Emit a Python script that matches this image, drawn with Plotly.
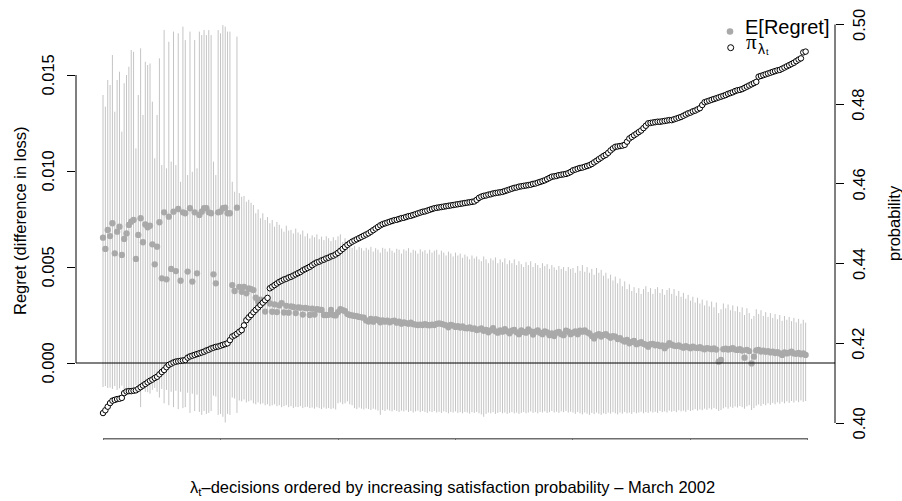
import plotly.graph_objects as go

# ---------------- data ----------------
decision_index = list(range(300))

expected_regret = [
    0.00653, 0.00594, 0.00693, 0.00661, 0.00728, 0.00571, 0.00684, 0.00710, 0.00563, 0.00646,
    0.00675, 0.00719, 0.00736, 0.00745, 0.00542, 0.00667, 0.00754, 0.00629, 0.00722, 0.00707,
    0.00715, 0.00618, 0.00514, 0.00606, 0.00733, 0.00441, 0.00785, 0.00436, 0.00762, 0.00490,
    0.00788, 0.00479, 0.00802, 0.00429, 0.00785, 0.00780, 0.00476, 0.00806, 0.00424, 0.00785,
    0.00467, 0.00771, 0.00788, 0.00806, 0.00806, 0.00785, 0.00780, 0.00462, 0.00415, 0.00785,
    0.00788, 0.00806, 0.00809, 0.00780, 0.00780, 0.00406, 0.00375, 0.00809, 0.00397, 0.00371,
    0.00397, 0.00363, 0.00389, 0.00385, 0.00380, 0.00340, 0.00320, 0.00330, 0.00315, 0.00268,
    0.00325, 0.00310, 0.00267, 0.00305, 0.00265, 0.00300, 0.00312, 0.00263, 0.00298, 0.00262,
    0.00295, 0.00292, 0.00260, 0.00290, 0.00288, 0.00252, 0.00287, 0.00285, 0.00250, 0.00283,
    0.00252, 0.00280, 0.00278, 0.00276, 0.00250, 0.00250, 0.00251, 0.00276, 0.00250, 0.00248,
    0.00265, 0.00280, 0.00275, 0.00270, 0.00255, 0.00250, 0.00248, 0.00245, 0.00244, 0.00240,
    0.00238, 0.00236, 0.00222, 0.00216, 0.00230, 0.00215, 0.00228, 0.00224, 0.00212, 0.00222,
    0.00215, 0.00220, 0.00212, 0.00218, 0.00220, 0.00210, 0.00216, 0.00205, 0.00212, 0.00208,
    0.00204, 0.00210, 0.00202, 0.00200, 0.00198, 0.00200, 0.00198, 0.00202, 0.00198, 0.00196,
    0.00200, 0.00198, 0.00204, 0.00206, 0.00204, 0.00200, 0.00196, 0.00186, 0.00198, 0.00195,
    0.00188, 0.00192, 0.00185, 0.00190, 0.00182, 0.00181, 0.00185, 0.00178, 0.00180, 0.00172,
    0.00175, 0.00180, 0.00168, 0.00172, 0.00160, 0.00170, 0.00182, 0.00165, 0.00158, 0.00170,
    0.00163, 0.00176, 0.00165, 0.00155, 0.00168, 0.00172, 0.00160, 0.00150, 0.00170, 0.00162,
    0.00158, 0.00175, 0.00165, 0.00148, 0.00163, 0.00170, 0.00158, 0.00150, 0.00165, 0.00160,
    0.00145, 0.00154, 0.00140, 0.00158, 0.00162, 0.00150, 0.00145, 0.00168, 0.00163, 0.00150,
    0.00158, 0.00165, 0.00150, 0.00168, 0.00163, 0.00170, 0.00160, 0.00154, 0.00140, 0.00128,
    0.00145, 0.00150, 0.00138, 0.00146, 0.00150, 0.00140, 0.00132, 0.00140, 0.00137, 0.00125,
    0.00130, 0.00118, 0.00112, 0.00120, 0.00103, 0.00110, 0.00115, 0.00098, 0.00103, 0.00108,
    0.00100, 0.00095, 0.00085, 0.00098, 0.00100, 0.00092, 0.00095, 0.00088, 0.00092, 0.00077,
    0.00090, 0.00103, 0.00095, 0.00090, 0.00088, 0.00092, 0.00085, 0.00080, 0.00088, 0.00082,
    0.00077, 0.00085, 0.00080, 0.00078, 0.00082, 0.00076, 0.00071, 0.00078, 0.00075, 0.00072,
    0.00076, 0.00070, 0.00007, 0.00016, 0.00072, 0.00075, 0.00070, 0.00073, 0.00077, 0.00070,
    0.00068, 0.00072, 0.00065, 0.00028, 0.00068, 0.00062, -0.00002, 0.00033, 0.00065, 0.00068,
    0.00060, 0.00064, 0.00058, 0.00062, 0.00055, 0.00059, 0.00052, 0.00056, 0.00050, 0.00042,
    0.00055, 0.00050, 0.00054, 0.00059, 0.00050, 0.00048, 0.00052, 0.00045, 0.00050, 0.00042,
]

regret_upper = [
    0.01396, 0.01335, 0.01474, 0.01448, 0.01604, 0.01309, 0.01474, 0.01517, 0.01205, 0.01457,
    0.01500, 0.01543, 0.01630, 0.01621, 0.01118, 0.01396, 0.01639, 0.01292, 0.01569, 0.01552,
    0.01560, 0.01361, 0.01066, 0.01292, 0.01587, 0.01031, 0.01734, 0.01014, 0.01673, 0.01049,
    0.01726, 0.01031, 0.01717, 0.00944, 0.01752, 0.01682, 0.00979, 0.01726, 0.00996, 0.01682,
    0.01014, 0.01726, 0.01708, 0.01734, 0.01708, 0.01734, 0.01708, 0.01049, 0.00979, 0.01734,
    0.01717, 0.01760, 0.01752, 0.01726, 0.01726, 0.00944, 0.00892, 0.01700, 0.00885, 0.00866,
    0.00870, 0.00840, 0.00850, 0.00835, 0.00823, 0.00780, 0.00800, 0.00754, 0.00780, 0.00745,
    0.00760, 0.00728, 0.00745, 0.00710, 0.00735, 0.00720, 0.00700, 0.00684, 0.00715, 0.00690,
    0.00693, 0.00675, 0.00700, 0.00680, 0.00670, 0.00690, 0.00660, 0.00675, 0.00649, 0.00665,
    0.00655, 0.00670, 0.00645, 0.00658, 0.00640, 0.00660, 0.00650, 0.00635, 0.00655, 0.00640,
    0.00660, 0.00670, 0.00630, 0.00650, 0.00620, 0.00605, 0.00600, 0.00610, 0.00590, 0.00605,
    0.00598, 0.00585, 0.00600, 0.00590, 0.00605, 0.00580, 0.00598, 0.00590, 0.00575, 0.00600,
    0.00595, 0.00580, 0.00598, 0.00585, 0.00575, 0.00595, 0.00590, 0.00570, 0.00592, 0.00585,
    0.00598, 0.00575, 0.00590, 0.00585, 0.00570, 0.00592, 0.00580, 0.00588, 0.00570, 0.00590,
    0.00575, 0.00585, 0.00590, 0.00565, 0.00585, 0.00575, 0.00560, 0.00580, 0.00570, 0.00555,
    0.00575, 0.00560, 0.00570, 0.00548, 0.00565, 0.00555, 0.00540, 0.00560, 0.00545, 0.00555,
    0.00540, 0.00530, 0.00555, 0.00540, 0.00520, 0.00545, 0.00535, 0.00550, 0.00520, 0.00540,
    0.00525, 0.00545, 0.00515, 0.00535, 0.00520, 0.00540, 0.00510, 0.00530, 0.00515, 0.00500,
    0.00525, 0.00510, 0.00530, 0.00500, 0.00520, 0.00510, 0.00495, 0.00520, 0.00505, 0.00515,
    0.00490, 0.00510, 0.00498, 0.00485, 0.00505, 0.00490, 0.00500, 0.00480, 0.00500, 0.00490,
    0.00495, 0.00470, 0.00505, 0.00480, 0.00510, 0.00475, 0.00500, 0.00470, 0.00490, 0.00460,
    0.00495, 0.00470, 0.00485, 0.00455, 0.00470, 0.00440, 0.00460, 0.00430, 0.00450, 0.00415,
    0.00440, 0.00400, 0.00425, 0.00385, 0.00410, 0.00375, 0.00395, 0.00365, 0.00390, 0.00360,
    0.00385, 0.00400, 0.00370, 0.00390, 0.00360, 0.00385, 0.00395, 0.00365, 0.00385, 0.00355,
    0.00380, 0.00390, 0.00360, 0.00385, 0.00350, 0.00375, 0.00345, 0.00365, 0.00335, 0.00355,
    0.00325, 0.00345, 0.00315, 0.00340, 0.00310, 0.00330, 0.00300, 0.00325, 0.00295, 0.00320,
    0.00290, 0.00315, 0.00260, 0.00280, 0.00310, 0.00285, 0.00305, 0.00275, 0.00300, 0.00270,
    0.00295, 0.00265, 0.00290, 0.00250, 0.00285, 0.00260, 0.00230, 0.00245, 0.00280, 0.00255,
    0.00275, 0.00245, 0.00265, 0.00240, 0.00260, 0.00235, 0.00255, 0.00228, 0.00250, 0.00220,
    0.00245, 0.00225, 0.00240, 0.00218, 0.00235, 0.00212, 0.00230, 0.00205, 0.00225, 0.00210,
]

regret_lower = [
    -0.00125, -0.00120, -0.00130, -0.00128, -0.00135, -0.00120, -0.00140, -0.00132, -0.00118, -0.00140,
    -0.00138, -0.00145, -0.00150, -0.00148, -0.00115, -0.00140, -0.00230, -0.00135, -0.00150, -0.00152,
    -0.00160, -0.00140, -0.00130, -0.00150, -0.00180, -0.00135, -0.00210, -0.00140, -0.00220, -0.00150,
    -0.00230, -0.00145, -0.00240, -0.00150, -0.00235, -0.00230, -0.00155, -0.00260, -0.00160, -0.00250,
    -0.00165, -0.00255, -0.00270, -0.00250, -0.00265, -0.00260, -0.00250, -0.00170, -0.00175, -0.00270,
    -0.00265, -0.00280, -0.00310, -0.00265, -0.00270, -0.00180, -0.00185, -0.00260, -0.00195, -0.00200,
    -0.00190, -0.00205, -0.00200, -0.00195, -0.00210, -0.00215, -0.00205, -0.00215, -0.00210, -0.00220,
    -0.00215, -0.00225, -0.00220, -0.00215, -0.00225, -0.00220, -0.00230, -0.00225, -0.00220, -0.00230,
    -0.00225, -0.00235, -0.00228, -0.00230, -0.00225, -0.00235, -0.00230, -0.00228, -0.00235, -0.00232,
    -0.00238, -0.00230, -0.00235, -0.00240, -0.00232, -0.00238, -0.00235, -0.00240, -0.00236, -0.00242,
    -0.00210, -0.00205, -0.00215, -0.00210, -0.00200, -0.00215, -0.00220, -0.00235, -0.00240, -0.00232,
    -0.00238, -0.00242, -0.00236, -0.00240, -0.00245, -0.00238, -0.00242, -0.00248, -0.00270, -0.00245,
    -0.00250, -0.00242, -0.00248, -0.00252, -0.00245, -0.00250, -0.00255, -0.00248, -0.00252, -0.00246,
    -0.00255, -0.00250, -0.00258, -0.00252, -0.00248, -0.00256, -0.00250, -0.00255, -0.00260, -0.00252,
    -0.00256, -0.00250, -0.00258, -0.00254, -0.00260, -0.00252, -0.00256, -0.00262, -0.00255, -0.00258,
    -0.00252, -0.00260, -0.00256, -0.00262, -0.00255, -0.00258, -0.00264, -0.00256, -0.00260, -0.00255,
    -0.00262, -0.00268, -0.00280, -0.00265, -0.00258, -0.00262, -0.00256, -0.00265, -0.00260, -0.00255,
    -0.00262, -0.00258, -0.00265, -0.00260, -0.00256, -0.00262, -0.00258, -0.00265, -0.00260, -0.00255,
    -0.00262, -0.00258, -0.00252, -0.00260, -0.00256, -0.00262, -0.00255, -0.00258, -0.00252, -0.00260,
    -0.00256, -0.00250, -0.00258, -0.00254, -0.00260, -0.00252, -0.00256, -0.00250, -0.00258, -0.00254,
    -0.00258, -0.00265, -0.00255, -0.00262, -0.00268, -0.00258, -0.00264, -0.00270, -0.00260, -0.00266,
    -0.00258, -0.00264, -0.00270, -0.00262, -0.00266, -0.00258, -0.00264, -0.00256, -0.00262, -0.00268,
    -0.00258, -0.00264, -0.00255, -0.00262, -0.00258, -0.00265, -0.00256, -0.00262, -0.00258, -0.00254,
    -0.00262, -0.00256, -0.00260, -0.00252, -0.00258, -0.00254, -0.00260, -0.00250, -0.00256, -0.00252,
    -0.00258, -0.00248, -0.00254, -0.00250, -0.00256, -0.00246, -0.00252, -0.00248, -0.00254, -0.00244,
    -0.00250, -0.00246, -0.00240, -0.00248, -0.00242, -0.00246, -0.00238, -0.00244, -0.00236, -0.00242,
    -0.00234, -0.00240, -0.00250, -0.00245, -0.00236, -0.00230, -0.00238, -0.00228, -0.00234, -0.00226,
    -0.00232, -0.00224, -0.00230, -0.00238, -0.00226, -0.00220, -0.00245, -0.00235, -0.00222, -0.00216,
    -0.00224, -0.00214, -0.00220, -0.00210, -0.00218, -0.00208, -0.00215, -0.00205, -0.00212, -0.00202,
    -0.00210, -0.00200, -0.00208, -0.00198, -0.00206, -0.00196, -0.00204, -0.00195, -0.00202, -0.00198,
]

satisfaction_prob = [
    0.4025, 0.4032, 0.4041, 0.4050, 0.4056, 0.4058, 0.4060, 0.4061, 0.4063, 0.4075,
    0.4079, 0.4080, 0.4080, 0.4081, 0.4082, 0.4086, 0.4090, 0.4094, 0.4098, 0.4102,
    0.4106, 0.4109, 0.4113, 0.4116, 0.4122, 0.4128, 0.4133, 0.4140, 0.4146, 0.4149,
    0.4152, 0.4154, 0.4155, 0.4156, 0.4157, 0.4158, 0.4164, 0.4167, 0.4169, 0.4171,
    0.4173, 0.4175, 0.4177, 0.4179, 0.4182, 0.4184, 0.4187, 0.4189, 0.4191, 0.4192,
    0.4194, 0.4196, 0.4198, 0.4200, 0.4208, 0.4217, 0.4220, 0.4224, 0.4229, 0.4233,
    0.4245, 0.4258, 0.4265, 0.4271, 0.4278, 0.4284, 0.4290, 0.4296, 0.4302, 0.4308,
    0.4314, 0.4338, 0.4342, 0.4346, 0.4350, 0.4354, 0.4357, 0.4360, 0.4362, 0.4365,
    0.4367, 0.4370, 0.4373, 0.4376, 0.4379, 0.4383, 0.4386, 0.4389, 0.4392, 0.4396,
    0.4400, 0.4403, 0.4405, 0.4408, 0.4410, 0.4413, 0.4415, 0.4418, 0.4420, 0.4423,
    0.4427, 0.4432, 0.4437, 0.4442, 0.4447, 0.4451, 0.4455, 0.4458, 0.4461, 0.4464,
    0.4467, 0.4470, 0.4473, 0.4476, 0.4480, 0.4484, 0.4488, 0.4492, 0.4496, 0.4499,
    0.4501, 0.4503, 0.4505, 0.4507, 0.4509, 0.4510, 0.4512, 0.4514, 0.4515, 0.4517,
    0.4519, 0.4520, 0.4522, 0.4524, 0.4526, 0.4528, 0.4530, 0.4531, 0.4533, 0.4535,
    0.4537, 0.4539, 0.4540, 0.4541, 0.4542, 0.4543, 0.4544, 0.4545, 0.4546, 0.4547,
    0.4548, 0.4549, 0.4550, 0.4551, 0.4552, 0.4553, 0.4554, 0.4555, 0.4556, 0.4560,
    0.4565, 0.4568, 0.4570, 0.4571, 0.4573, 0.4574, 0.4576, 0.4577, 0.4578, 0.4579,
    0.4580, 0.4582, 0.4584, 0.4586, 0.4588, 0.4590, 0.4591, 0.4593, 0.4594, 0.4595,
    0.4596, 0.4597, 0.4598, 0.4600, 0.4601, 0.4603, 0.4605, 0.4607, 0.4609, 0.4612,
    0.4615, 0.4618, 0.4619, 0.4620, 0.4622, 0.4623, 0.4624, 0.4625, 0.4627, 0.4630,
    0.4634, 0.4636, 0.4638, 0.4640, 0.4641, 0.4643, 0.4645, 0.4647, 0.4650, 0.4654,
    0.4658, 0.4662, 0.4666, 0.4670, 0.4673, 0.4678, 0.4684, 0.4689, 0.4693, 0.4694,
    0.4695, 0.4696, 0.4698, 0.4706, 0.4714, 0.4718, 0.4722, 0.4726, 0.4730, 0.4734,
    0.4740, 0.4746, 0.4752, 0.4753, 0.4754, 0.4755, 0.4756, 0.4756, 0.4757, 0.4758,
    0.4759, 0.4760, 0.4760, 0.4762, 0.4764, 0.4766, 0.4768, 0.4771, 0.4774, 0.4777,
    0.4779, 0.4782, 0.4784, 0.4787, 0.4790, 0.4798, 0.4805, 0.4807, 0.4809, 0.4811,
    0.4813, 0.4815, 0.4817, 0.4819, 0.4821, 0.4823, 0.4826, 0.4828, 0.4830, 0.4833,
    0.4835, 0.4836, 0.4838, 0.4841, 0.4844, 0.4847, 0.4850, 0.4853, 0.4856, 0.4869,
    0.4871, 0.4873, 0.4875, 0.4877, 0.4879, 0.4881, 0.4883, 0.4885, 0.4886, 0.4889,
    0.4892, 0.4895, 0.4898, 0.4901, 0.4904, 0.4908, 0.4912, 0.4915, 0.4930, 0.4932,
]

left_ticks = [0.0, 0.005, 0.010, 0.015]
left_tick_labels = ["0.000", "0.005", "0.010", "0.015"]
right_ticks = [0.40, 0.42, 0.44, 0.46, 0.48, 0.50]
right_tick_labels = ["0.40", "0.42", "0.44", "0.46", "0.48", "0.50"]
x_ticks = [0, 50, 100, 150, 200, 250, 300]

lens = [len(decision_index), len(expected_regret), len(regret_upper), len(regret_lower), len(satisfaction_prob)]
if len(set(lens)) != 1:
    raise ValueError("length mismatch: %s" % lens)

# ---------------- figure ----------------
X_RANGE = [-11.5, 311.5]
Y_RANGE = [-0.003906, 0.018021]
Y2_RANGE = [0.396236, 0.501882]

BAR_GREY = "#C4C4C4"
DOT_GREY = "#A9A9A9"
FONT = "Liberation Sans, Arial, Helvetica, sans-serif"
FS = 16.5

PL, PR, PT, PB = 76, 835, 17, 438   # plotting region in pixels


def px_x(v):
    return (v - PL) / (PR - PL)


def px_y(v):
    return (PB - v) / (PB - PT)


fig = go.Figure()

fig.add_trace(go.Scatter(
    x=decision_index, y=expected_regret, mode="markers",
    marker=dict(color=DOT_GREY, size=6.3, line=dict(width=0)),
    error_y=dict(type="data", symmetric=False,
                 array=[u - r for u, r in zip(regret_upper, expected_regret)],
                 arrayminus=[r - l for r, l in zip(expected_regret, regret_lower)],
                 color=BAR_GREY, thickness=1, width=0),
    showlegend=False, hoverinfo="skip", yaxis="y",
))

# horizontal reference line at zero regret (spans the plotting region)
fig.add_trace(go.Scatter(
    x=X_RANGE, y=[0, 0], mode="lines", line=dict(color="black", width=1),
    showlegend=False, hoverinfo="skip", yaxis="y",
))

fig.add_trace(go.Scatter(
    x=decision_index, y=satisfaction_prob, mode="markers",
    marker=dict(color="white", size=5.5, line=dict(color="black", width=1)),
    showlegend=False, hoverinfo="skip", yaxis="y2",
))

axis_font = dict(family=FONT, size=FS, color="black")

fig.update_layout(
    width=902, height=501,
    margin=dict(l=PL, r=902 - PR, t=PT, b=501 - PB, autoexpand=False),
    paper_bgcolor="white", plot_bgcolor="white",
    font=axis_font,
    showlegend=False,
    hovermode=False,
    xaxis=dict(range=X_RANGE, showgrid=False, zeroline=False, showline=False,
               tickvals=x_ticks, showticklabels=False, ticks="outside",
               ticklen=1, tickcolor="#6E6E6E", automargin=False),
    yaxis=dict(range=Y_RANGE, showgrid=False, zeroline=False, showline=False,
               tickvals=left_ticks, showticklabels=False, ticks="outside",
               ticklen=8, tickwidth=1, tickcolor="black", automargin=False),
    yaxis2=dict(range=Y2_RANGE, overlaying="y", side="right", showgrid=False,
                zeroline=False, showline=False, tickvals=right_ticks,
                showticklabels=False, ticks="outside", ticklen=8,
                tickwidth=1, tickcolor="black", automargin=False),
)

# R-style axis lines that only span the tick range
fig.add_shape(type="line", xref="paper", yref="y", x0=0, x1=0,
              y0=left_ticks[0], y1=left_ticks[-1], line=dict(color="black", width=1))
fig.add_shape(type="line", xref="paper", yref="y2", x0=1, x1=1,
              y0=right_ticks[0], y1=right_ticks[-1], line=dict(color="black", width=1))
fig.add_shape(type="line", xref="x", yref="paper", x0=x_ticks[0], x1=x_ticks[-1],
              y0=-0.002, y1=-0.002, line=dict(color="#6E6E6E", width=1.5))

# rotated tick labels (R las=0 style)
for v, t in zip(left_ticks, left_tick_labels):
    fig.add_annotation(text=t, xref="paper", yref="y", x=px_x(47.5), y=v,
                       textangle=-90, showarrow=False, xanchor="center",
                       yanchor="middle", font=axis_font)
for v, t in zip(right_ticks, right_tick_labels):
    fig.add_annotation(text=t, xref="paper", yref="y2", x=px_x(858.5), y=v,
                       textangle=-90, showarrow=False, xanchor="center",
                       yanchor="middle", font=axis_font)

# axis titles
fig.add_annotation(text="Regret (difference in loss)", xref="paper", yref="paper",
                   x=px_x(20), y=px_y(221), textangle=-90, showarrow=False,
                   xanchor="center", yanchor="middle", font=axis_font)
fig.add_annotation(text="probability", xref="paper", yref="paper",
                   x=px_x(894), y=px_y(223), textangle=-90, showarrow=False,
                   xanchor="center", yanchor="middle", font=axis_font)
fig.add_annotation(text="λ<sub>t</sub>–decisions ordered by increasing satisfaction probability – March 2002",
                   xref="paper", yref="paper", x=px_x(452.5), y=px_y(488),
                   showarrow=False, xanchor="center", yanchor="middle", font=axis_font)

# legend (top right, no box)
fig.add_shape(type="circle", xref="paper", yref="paper", xsizemode="pixel", ysizemode="pixel",
              xanchor=px_x(730), yanchor=px_y(31.5), x0=-3.3, x1=3.3, y0=-3.3, y1=3.3,
              fillcolor=DOT_GREY, line=dict(width=0))
fig.add_shape(type="circle", xref="paper", yref="paper", xsizemode="pixel", ysizemode="pixel",
              xanchor=px_x(730.7), yanchor=px_y(47.7), x0=-3, x1=3, y0=-3, y1=3,
              fillcolor="white", line=dict(color="black", width=1))
fig.add_annotation(text="E[Regret]", xref="paper", yref="paper", x=px_x(743), y=px_y(27),
                   showarrow=False, xanchor="left", yanchor="middle",
                   font=dict(family=FONT, size=20, color="black"))
fig.add_annotation(text="π", xref="paper", yref="paper", x=px_x(744), y=px_y(42),
                   showarrow=False, xanchor="left", yanchor="middle",
                   font=dict(family="Liberation Serif, Times New Roman, serif", size=21, color="black"))
fig.add_annotation(text="λ", xref="paper", yref="paper", x=px_x(755.5), y=px_y(48.5),
                   showarrow=False, xanchor="left", yanchor="middle",
                   font=dict(family=FONT, size=14, color="black"))
fig.add_annotation(text="t", xref="paper", yref="paper", x=px_x(763.5), y=px_y(52),
                   showarrow=False, xanchor="left", yanchor="middle",
                   font=dict(family=FONT, size=9, color="black"))

fig.write_html(
    "out.html",
    config={"displayModeBar": False, "staticPlot": True},
    post_script="document.body.style.margin='0';document.documentElement.style.overflow='hidden';",
)
